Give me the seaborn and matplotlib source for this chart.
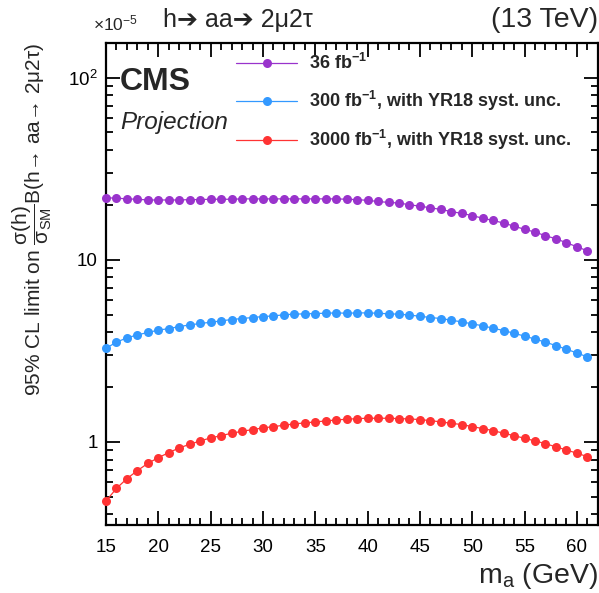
import numpy as np
import pandas as pd
import matplotlib
matplotlib.use("Agg")
import matplotlib.pyplot as plt
from matplotlib.ticker import MultipleLocator, LogLocator, NullFormatter
import seaborn as sns

mass = list(range(15, 62))

lim_36 = [21.9, 21.8, 21.6, 21.5, 21.3, 21.3, 21.3, 21.3, 21.4, 21.4,
          21.5, 21.5, 21.5, 21.6, 21.6, 21.6, 21.6, 21.6, 21.6, 21.6,
          21.6, 21.6, 21.6, 21.5, 21.4, 21.2, 20.9, 20.65, 20.5, 20.05,
          19.7, 19.3, 18.9, 18.4, 17.97, 17.5, 16.9, 16.45, 15.9, 15.3,
          14.7, 14.2, 13.55, 13.05, 12.4, 11.8, 11.2]
lim_300 = [3.27, 3.53, 3.73, 3.87, 3.99, 4.11, 4.19, 4.30, 4.39, 4.47,
           4.54, 4.62, 4.70, 4.76, 4.82, 4.88, 4.92, 4.99, 5.03, 5.05,
           5.07, 5.09, 5.11, 5.09, 5.11, 5.11, 5.09, 5.05, 5.03, 4.97,
           4.90, 4.82, 4.76, 4.66, 4.56, 4.45, 4.34, 4.21, 4.09, 3.95,
           3.81, 3.67, 3.53, 3.38, 3.23, 3.08, 2.93]
lim_3000 = [0.474, 0.556, 0.629, 0.696, 0.763, 0.820, 0.874, 0.927, 0.971, 1.013,
            1.052, 1.083, 1.116, 1.144, 1.169, 1.194, 1.214, 1.235, 1.256, 1.272,
            1.288, 1.304, 1.321, 1.332, 1.343, 1.349, 1.349, 1.349, 1.343, 1.338,
            1.326, 1.310, 1.288, 1.266, 1.245, 1.214, 1.184, 1.154, 1.116, 1.083,
            1.047, 1.013, 0.979, 0.939, 0.904, 0.867, 0.831]

labels = [r"36 fb$^{\mathbf{-1}}$",
          r"300 fb$^{\mathbf{-1}}$, with YR18 syst. unc.",
          r"3000 fb$^{\mathbf{-1}}$, with YR18 syst. unc."]
colors = ["#9933CC", "#3399FF", "#FF3333"]
series = [lim_36, lim_300, lim_3000]

sns.set_style("white")
plt.rcParams["font.family"] = ["Liberation Sans", "DejaVu Sans"]
plt.rcParams["mathtext.fontset"] = "custom"
plt.rcParams["mathtext.rm"] = "Liberation Sans"
plt.rcParams["mathtext.it"] = "Liberation Sans:italic"
plt.rcParams["mathtext.bf"] = "Liberation Sans:bold"

fig = plt.figure(figsize=(5.99, 5.93), dpi=100)
ax = fig.add_axes([0.177, 0.1147, 0.821, 0.8128])

for vals, lab, col in zip(series, labels, colors):
    df = pd.DataFrame({"m": mass, "v": vals})
    sns.lineplot(data=df, x="m", y="v", ax=ax, color=col, marker="o",
                 markersize=6.5, markeredgewidth=0, linewidth=0.9,
                 label=lab, clip_on=False, zorder=3)

ax.set_yscale("log")
ax.set_xlim(15, 62)
ax.set_ylim(0.35, 155)

ax.xaxis.set_major_locator(MultipleLocator(5))
ax.xaxis.set_minor_locator(MultipleLocator(1))
ax.set_yticks([1, 10, 100])
ax.set_yticklabels(["1", "10", r"10$^{2}$"])
ax.yaxis.set_minor_locator(LogLocator(base=10, subs=np.arange(2, 10)))
ax.yaxis.set_minor_formatter(NullFormatter())

ax.tick_params(which="both", direction="in", top=True, right=True,
               bottom=True, left=True,
               width=1.3, labelsize=13.5, color="black", labelcolor="black")
ax.tick_params(which="major", length=10)
ax.tick_params(which="minor", length=5)
ax.tick_params(axis="x", which="major", pad=10)
ax.tick_params(axis="y", which="major", pad=6)
for s in ax.spines.values():
    s.set_linewidth(1.6)
    s.set_color("black")

ax.set_xlabel(r"m$_{\mathrm{a}}$ (GeV)", fontsize=20.5, loc="right", labelpad=4)
ax.set_ylabel(r"95% CL limit on $\dfrac{\mathrm{σ(h)}}{\mathrm{σ}_{\mathrm{SM}}}$B(h→ aa→ 2μ2τ)",
              fontsize=15, loc="top", labelpad=10)

leg = ax.legend(loc="upper left", bbox_to_anchor=(0.394, 0.910),
                bbox_transform=fig.transFigure, frameon=False,
                prop={"weight": "bold", "size": 13}, handlelength=3.4,
                handletextpad=0.65, labelspacing=0.85, borderpad=0,
                borderaxespad=0)

fig.text(0.200, 0.862, "CMS", fontsize=23, fontweight="bold", ha="left", va="center")
fig.text(0.200, 0.794, "Projection", fontsize=17.5, fontstyle="italic", ha="left", va="center")

fig.text(0.155, 0.961, r"$\times$10$^{-5}$", fontsize=12.5, ha="left", va="center")
fig.text(0.272, 0.967, "h➔ aa➔ 2μ2τ", fontsize=18, ha="left", va="center")
fig.text(0.998, 0.967, "(13 TeV)", fontsize=20.5, ha="right", va="center")

fig.savefig("out.png", dpi=100, facecolor="white")
